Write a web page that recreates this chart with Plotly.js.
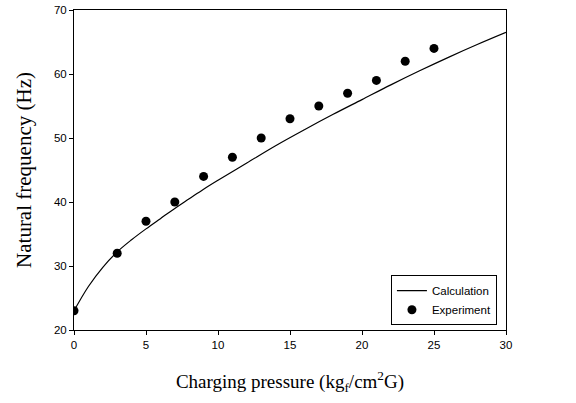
<!DOCTYPE html>
<html>
<head>
<meta charset="utf-8">
<script src="https://cdn.plot.ly/plotly-3.0.1.min.js"></script>
<style>html,body{margin:0;padding:0;background:#fff;}#chart{width:576px;height:403px;}</style>
</head>
<body>
<div id="chart"></div>
<script>
// Calculation curve
const calcPressure = [0, 1, 2, 3, 4, 5, 6, 7, 8, 9, 10, 12, 14, 16, 18, 20, 22, 24, 26, 28, 30];
const calcFreq = [23, 26.8, 29.8, 32.2, 34.1, 35.8, 37.4, 39.0, 40.5, 42.0, 43.4, 46.1, 48.8, 51.3, 53.7, 56.0, 58.3, 60.5, 62.6, 64.6, 66.5];
// Experiment points
const expPressure = [0, 3, 5, 7, 9, 11, 13, 15, 17, 19, 21, 23, 25];
const expFreq = [23, 32, 37, 40, 44, 47, 50, 53, 55, 57, 59, 62, 64];
const xTicks = [0, 5, 10, 15, 20, 25, 30];
const yTicks = [20, 30, 40, 50, 60, 70];

const traces = [
  {x: calcPressure, y: calcFreq, mode: 'lines', name: 'Calculation', line: {color: '#000', width: 1.2, shape: 'spline'}},
  {x: expPressure, y: expFreq, mode: 'markers', name: 'Experiment', marker: {color: '#000', size: 9}}
];
const axisCommon = {showline: true, linecolor: '#000', linewidth: 1, mirror: true, ticks: 'outside', ticklen: 4, tickcolor: '#000', showgrid: false, zeroline: false, tickfont: {family: 'Arial, Liberation Sans', size: 11.5, color: '#000'}};
const layout = {
  width: 576, height: 403,
  margin: {l: 74, r: 70, t: 10, b: 73},
  paper_bgcolor: '#fff', plot_bgcolor: '#fff',
  showlegend: true,
  legend: {x: 0.979, xanchor: 'right', y: 0.015, yanchor: 'bottom', bordercolor: '#000', borderwidth: 1, bgcolor: '#fff', font: {family: 'Arial, Liberation Sans', size: 11.5, color: '#000'}},
  xaxis: Object.assign({}, axisCommon, {range: [0, 30], tickvals: xTicks, title: {text: 'Charging pressure (kg<sub>f</sub>/cm<sup>2</sup>G)', font: {family: 'Times New Roman, Liberation Serif', size: 19, color: '#000'}, standoff: 24}}),
  yaxis: Object.assign({}, axisCommon, {range: [20, 70], tickvals: yTicks, title: {text: 'Natural frequency (Hz)', font: {family: 'Times New Roman, Liberation Serif', size: 21, color: '#000'}, standoff: 16}})
};
Plotly.newPlot('chart', traces, layout, {displayModeBar: false, staticPlot: true});
</script>
</body>
</html>
